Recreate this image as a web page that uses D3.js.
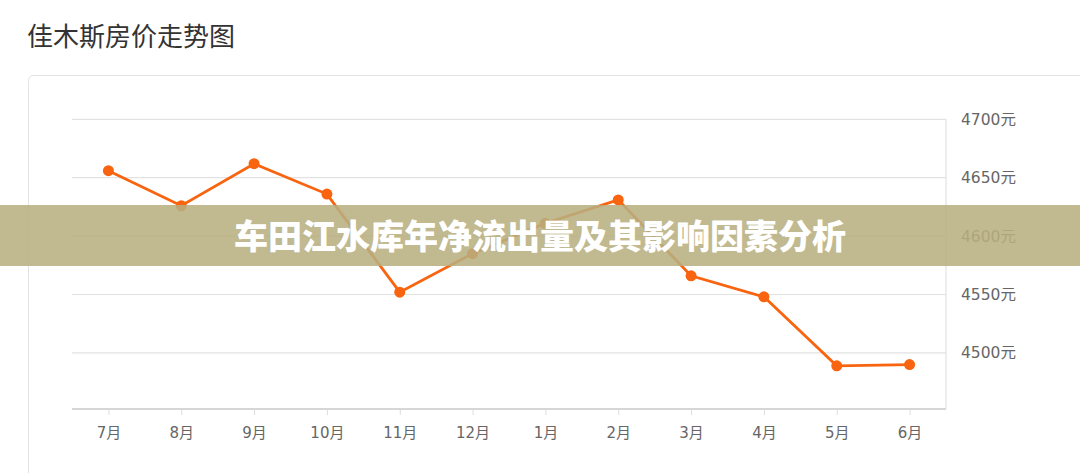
<!DOCTYPE html>
<html>
<head>
<meta charset="utf-8">
<script src="https://cdn.jsdelivr.net/npm/d3@7"></script>
<style>
  html, body { margin: 0; padding: 0; background: #fff; }
  svg { display: block; font-family: "Noto Sans CJK SC", "Noto Sans", sans-serif; }
</style>
</head>
<body>
<div id="chart"></div>
<script>
// data
const months = ["7月", "8月", "9月", "10月", "11月", "12月", "1月", "2月", "3月", "4月", "5月", "6月"];
const prices = [4656, 4626, 4662, 4636, 4552, 4585, 4611, 4631, 4566, 4548, 4489, 4490];
const yTicks = [4500, 4550, 4600, 4650, 4700];
const pageTitle = "佳木斯房价走势图";
const bannerText = "车田江水库年净流出量及其影响因素分析";

const W = 1080, H = 473;
const labelFont = "'DejaVu Sans', 'Noto Sans CJK SC', sans-serif";
const svg = d3.select("#chart").append("svg")
  .attr("width", W)
  .attr("height", H);

// title
svg.append("text")
  .attr("x", 27)
  .attr("y", 46)
  .attr("font-size", 26)
  .attr("fill", "#333")
  .text(pageTitle);

// card outline
svg.append("rect")
  .attr("x", 28.5)
  .attr("y", 75.5)
  .attr("width", 1100)
  .attr("height", 500)
  .attr("rx", 5)
  .attr("fill", "none")
  .attr("stroke", "#e3e3e3");

// plot area
const plotL = 72, plotR = 946, plotT = 119.3, plotB = 409;
const x = d3.scalePoint().domain(months).range([plotL, plotR]).padding(0.5);
const y = d3.scaleLinear().domain([4452, 4700]).range([plotB, plotT]);

// grid lines
svg.append("g")
  .selectAll("line")
  .data(yTicks)
  .join("line")
    .attr("x1", plotL)
    .attr("x2", plotR)
    .attr("y1", d => y(d))
    .attr("y2", d => y(d))
    .attr("stroke", "#e2e2e2")
    .attr("stroke-width", 1.2);

// right border
svg.append("line")
  .attr("x1", plotR).attr("x2", plotR)
  .attr("y1", plotT).attr("y2", plotB)
  .attr("stroke", "#e2e2e2")
  .attr("stroke-width", 1.2);

// right axis labels
svg.append("g")
  .selectAll("text")
  .data(yTicks)
  .join("text")
    .attr("x", 961)
    .attr("y", d => y(d))
    .attr("dy", "0.35em")
    .attr("font-size", 15.5)
    .attr("font-family", labelFont)
    .attr("fill", "#666")
    .text(d => d + "元");

// bottom axis
const xAxis = svg.append("g")
  .attr("transform", `translate(0,${plotB})`)
  .call(d3.axisBottom(x).tickSize(6).tickSizeOuter(0).tickPadding(12));
xAxis.select(".domain").remove();
xAxis.selectAll(".tick line").attr("stroke", "#ddd");
xAxis.selectAll(".tick text")
  .attr("font-size", 15)
  .attr("fill", "#666")
  .attr("font-family", labelFont);
svg.append("line")
  .attr("x1", plotL).attr("x2", plotR)
  .attr("y1", plotB).attr("y2", plotB)
  .attr("stroke", "#d6d6d6")
  .attr("stroke-width", 2);

// price line
const orange = "#f8640f";
const line = d3.line()
  .x((d, i) => x(months[i]))
  .y(d => y(d));

svg.append("path")
  .datum(prices)
  .attr("d", line)
  .attr("fill", "none")
  .attr("stroke", orange)
  .attr("stroke-width", 2.8);

svg.append("g")
  .selectAll("circle")
  .data(prices)
  .join("circle")
    .attr("cx", (d, i) => x(months[i]))
    .attr("cy", d => y(d))
    .attr("r", 5.5)
    .attr("fill", orange);

// overlay banner
svg.append("rect")
  .attr("x", 0)
  .attr("y", 205)
  .attr("width", W)
  .attr("height", 61)
  .attr("fill", "rgb(184,175,128)")
  .attr("fill-opacity", 0.87);

svg.append("text")
  .attr("x", W / 2)
  .attr("y", 237)
  .attr("dy", "0.35em")
  .attr("text-anchor", "middle")
  .attr("font-size", 34)
  .attr("font-weight", 900)
  .attr("fill", "#fff")
  .text(bannerText);
</script>
</body>
</html>
